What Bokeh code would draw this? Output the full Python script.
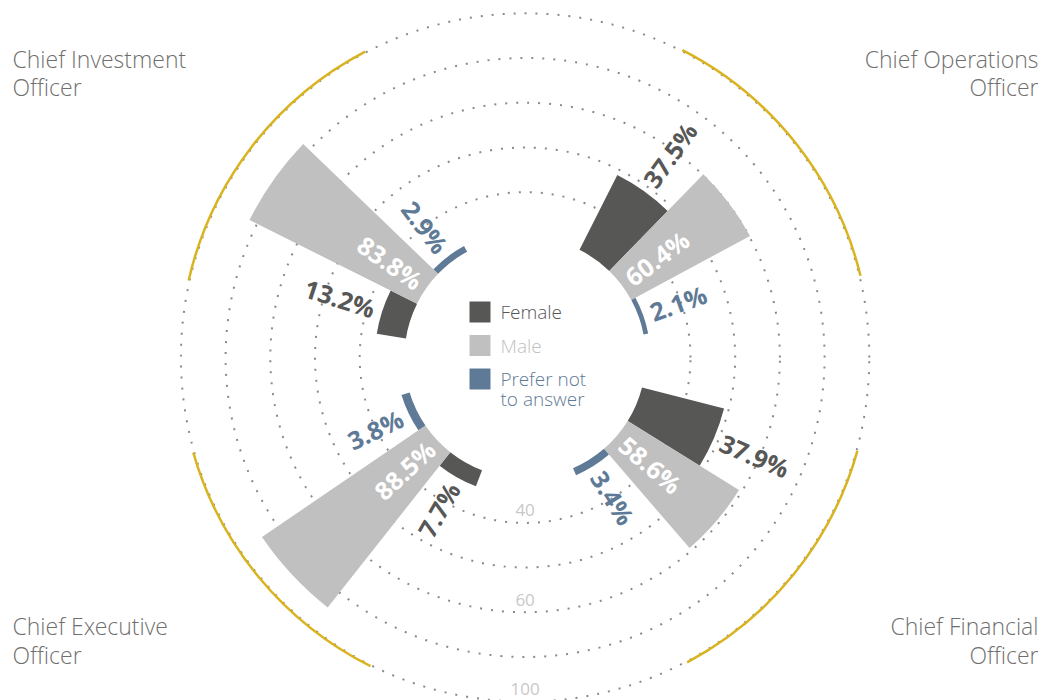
import math
from bokeh.plotting import figure
from bokeh.models import Range1d
from bokeh.core.properties import value
from bokeh.embed import file_html
from bokeh.resources import INLINE

# ---------------- data ----------------
roles = ["Chief Operations\nOfficer", "Chief Financial\nOfficer",
         "Chief Executive\nOfficer", "Chief Investment\nOfficer"]
female = [37.5, 37.9, 7.7, 13.2]
male = [60.4, 58.6, 88.5, 83.8]
prefer = [2.1, 3.4, 3.8, 2.9]
series_names = ["Female", "Male", "Prefer not\nto answer"]
ring_values = [20, 40, 60, 80, 100]
tick_values = [20, 60, 100]
tick_labels = ["40", "60", "100"]

# ---------------- style / layout ----------------
series_colors = ["#575756", "#c0c0c0", "#5e7a96"]
label_colors = ["#575756", "#ffffff", "#5e7a96"]
YELLOW = "#d9b320"
W, H = 1044, 700
CX, CY = 524.6, 357.0            # pixel position of the centre
R0, R100 = 120.7, 344.2          # radius of value 0 and value 100
group_start = [26.8, 104.4, 200.9, 279.1]   # degrees clockwise from north
bar_w = 17.4
arc_spans = [(27.1, 76.3), (105.7, 152.0), (206.6, 254.0), (282.9, 332.4)]  # yellow arcs
PAD = 8
BL = 0.45                        # baseline compensation (fraction of font size)


def rad(v):
    return R0 + v * (R100 - R0) / 100.0


def px(x, y):
    return x - CX, CY - y


p = figure(width=W, height=H, x_range=Range1d(-CX, W - CX), y_range=Range1d(CY - H, CY),
           output_backend="svg", toolbar_location=None, min_border=0)
p.axis.visible = False
p.grid.visible = False
p.outline_line_color = None
p.background_fill_color = "white"
p.border_fill_color = "white"

# dotted rings
rr = [rad(v) for v in ring_values]
p.arc(x=[0] * len(rr), y=[0] * len(rr), radius=rr, start_angle=0, end_angle=2 * math.pi,
      line_color="#8a8a8a", line_width=2, line_dash="2 9")

# tick labels
tr = [rad(v) for v in tick_values]
p.text(x=[0] * len(tr), y=[-(r - 5) + BL * 17 for r in tr], text=tick_labels, text_align="center",
       text_baseline="alphabetic", text_color="#c8c8c8", text_font_size="17px",
       text_font=value("Open Sans"))

series_vals = [female, male, prefer]

# bars
for k, vals in enumerate(series_vals):
    starts, ends, outer = [], [], []
    for g, v in enumerate(vals):
        a0 = group_start[g] + k * bar_w
        a1 = a0 + bar_w
        starts.append(math.radians(90 - a1))
        ends.append(math.radians(90 - a0))
        outer.append(rad(v))
    p.annular_wedge(x=[0] * 4, y=[0] * 4, inner_radius=R0, outer_radius=outer,
                    start_angle=starts, end_angle=ends, fill_color=series_colors[k],
                    line_color=None, direction="anticlock")

# yellow arcs
ys = [math.radians(90 - b) for a, b in arc_spans]
ye = [math.radians(90 - a) for a, b in arc_spans]
p.arc(x=[0] * 4, y=[0] * 4, radius=R100 + 1, start_angle=ys, end_angle=ye,
      line_color=YELLOW, line_width=2.5)

# value labels
for k, vals in enumerate(series_vals):
    for g, v in enumerate(vals):
        ac = group_start[g] + k * bar_w + bar_w / 2
        th = math.radians(90 - ac)
        rl = (R0 + PAD) if k == 1 else (rad(v) + PAD)
        x, y = rl * math.cos(th), rl * math.sin(th)
        if math.cos(th) > 0:
            ang, al = th, "left"
        else:
            ang, al = th + math.pi, "right"
        p.text(x=[x], y=[y], text=[f"{v:.1f}%"], angle=ang, text_align=al,
               text_baseline="middle", text_color=label_colors[k], text_font_size="25px",
               text_font=value("Open Sans"), text_font_style="bold")

# legend
for i, name in enumerate(series_names):
    top = 301 + i * 33.5
    x, y = px(479.5, top + 10.5)
    p.rect(x=[x], y=[y], width=21, height=21, fill_color=series_colors[i], line_color=None)
    for j, line in enumerate(name.split("\n")):
        tx, ty = px(500, top + 19.5 + j * 20)
        p.text(x=[tx], y=[ty + BL * 19], text=[line], text_align="left", text_baseline="alphabetic",
               text_color=series_colors[i], text_font_size="19px", text_font=value("Open Sans Light"))

# corner role labels
corner = [(1038, 68.5, "right"), (1038, 636, "right"), (12, 636, "left"), (12, 68.5, "left")]
for g, name in enumerate(roles):
    cxp, byp, al = corner[g]
    for j, line in enumerate(name.split("\n")):
        tx, ty = px(cxp, byp + j * 28.5)
        p.text(x=[tx], y=[ty + BL * 23], text=[line], text_align=al, text_baseline="alphabetic",
               text_color="#6f6f6e", text_font_size="23px", text_font=value("Open Sans Light"))

open("out.html", "w").write(file_html(p, INLINE))
